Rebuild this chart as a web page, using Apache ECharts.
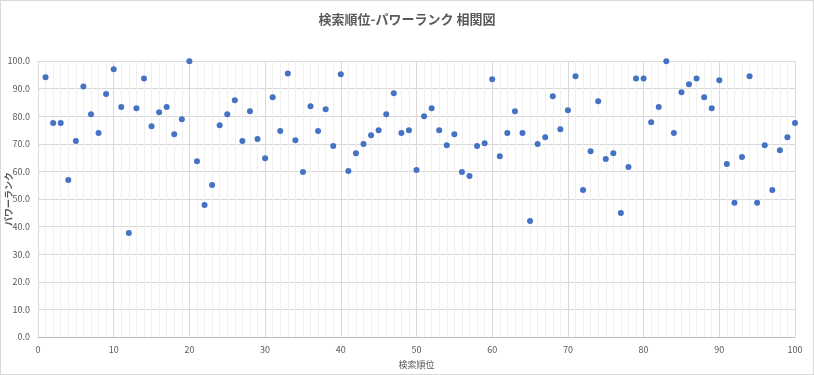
<!DOCTYPE html>
<html><head><meta charset="utf-8">
<script src="https://cdn.jsdelivr.net/npm/echarts@6/dist/echarts.min.js"></script>
<style>html,body{margin:0;padding:0;background:#fff}#c{width:814px;height:375px;box-sizing:border-box;border:1px solid #d9d9d9}</style>
</head><body><div id="c"></div>
<script>
const ranks = [];
for (let i = 1; i <= 100; i++) ranks.push(i);
const powerRank = [
 94.1,77.5,77.5,56.9,71.0,90.8,80.7,73.9,88.0,97.0,
 83.3,37.7,82.9,93.7,76.4,81.4,83.3,73.5,78.9,99.9,
 63.7,47.8,55.1,76.7,80.7,85.8,71.0,81.8,71.7,64.8,
 86.9,74.6,95.5,71.3,59.8,83.6,74.6,82.5,69.2,95.2,
 60.1,66.6,69.9,73.1,74.9,80.7,88.3,73.9,74.9,60.5,
 80.0,82.9,74.9,69.5,73.5,59.8,58.3,69.2,70.2,93.4,
 65.5,73.9,81.8,73.9,42.0,69.9,72.4,87.2,75.3,82.2,
 94.5,53.3,67.3,85.4,64.5,66.6,44.9,61.6,93.7,93.7,
 77.8,83.3,99.9,73.9,88.7,91.6,93.7,86.9,82.9,93.0,
 62.7,48.6,65.2,94.5,48.6,69.5,53.3,67.7,72.4,77.5
];
const titleText = '検索順位-パワーランク 相関図';
const xName = '検索順位';
const yName = 'パワーランク';

const chart = echarts.init(document.getElementById('c'));
const font = '"Noto Sans CJK JP", "Noto Sans", sans-serif';
chart.setOption({
  animation: false,
  title: { text: titleText, left: 'center', top: 7,
    textStyle: { fontFamily: font, fontSize: 13, fontWeight: 'bold', color: '#595959' } },
  grid: { left: 37, right: 18, top: 60, bottom: 37, containLabel: false, outerBoundsMode: 'none' },
  xAxis: {
    type: 'value', min: 0, max: 100, interval: 10,
    name: xName, nameLocation: 'middle', nameGap: 23, nameMoveOverlap: false,
    nameTextStyle: { fontFamily: font, fontSize: 9, color: '#595959' },
    axisLine: { show: true, lineStyle: { color: '#bfbfbf' } },
    axisTick: { show: false },
    axisLabel: { fontFamily: font, fontSize: 9, color: '#595959', margin: 8 },
    splitLine: { show: true, lineStyle: { color: '#d9d9d9', width: 1 } },
    minorTick: { show: false, splitNumber: 10 },
    minorSplitLine: { show: true, lineStyle: { color: '#efefef', width: 1 } }
  },
  yAxis: {
    type: 'value', min: 0, max: 100, interval: 10,
    name: yName, nameLocation: 'middle', nameGap: 25, nameRotate: 90, nameMoveOverlap: false,
    nameTextStyle: { fontFamily: font, fontSize: 9, fontWeight: 'bold', color: '#595959' },
    axisLine: { show: false },
    axisTick: { show: false },
    axisLabel: { fontFamily: font, fontSize: 9, color: '#595959', margin: 8,
      formatter: v => v.toFixed(1) },
    splitLine: { show: true, lineStyle: { color: '#d9d9d9', width: 1 } }
  },
  series: [{
    type: 'scatter',
    data: ranks.map((r, i) => [r, powerRank[i]]),
    symbol: 'circle', symbolSize: 6,
    itemStyle: { color: '#4472C4', opacity: 1 }
  }]
});
</script></body></html>
